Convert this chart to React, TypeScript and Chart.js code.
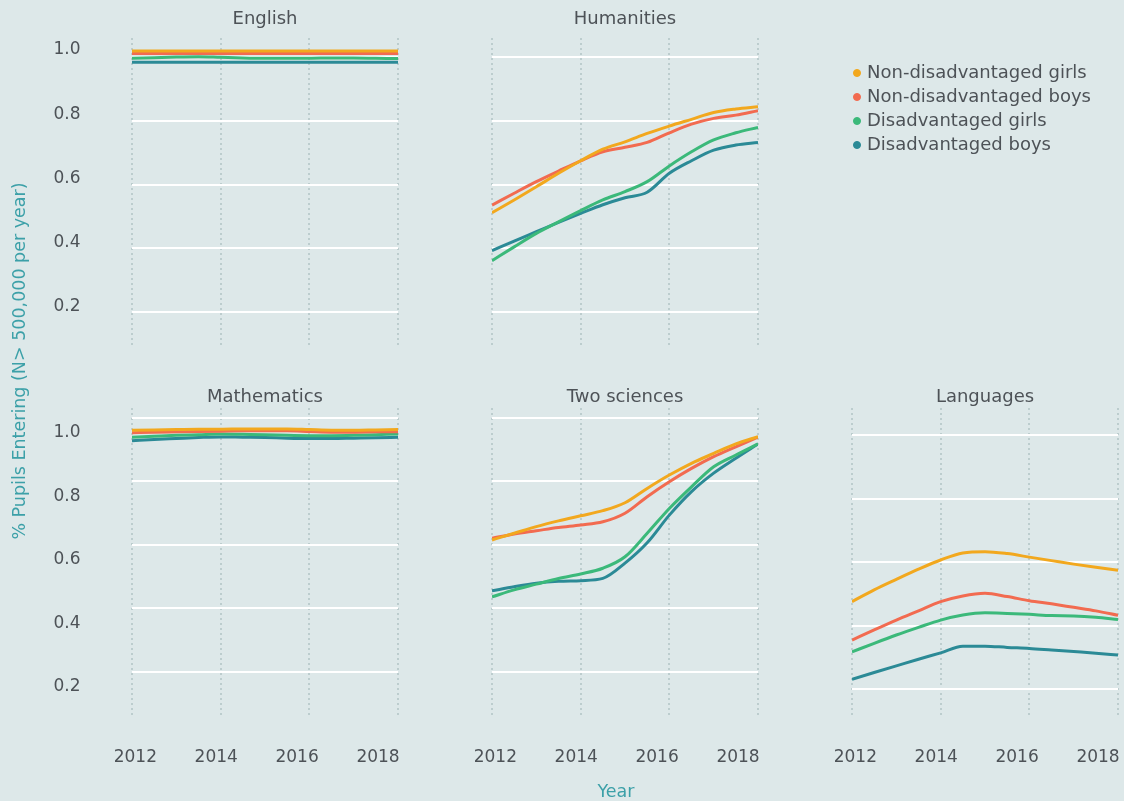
import React, { useEffect, useRef } from "react";
import { Chart, registerables } from "chart.js";

Chart.register(...registerables);

// ---------- data ----------
const years = [2012, 2012.5, 2013, 2013.5, 2014, 2014.5, 2015, 2015.5, 2016, 2016.5, 2017, 2017.5, 2018];
const yearTicks = [2012, 2014, 2016, 2018];
const valueTicks = [0.2, 0.4, 0.6, 0.8, 1.0];

const seriesNames = [
  "Non-disadvantaged girls",
  "Non-disadvantaged boys",
  "Disadvantaged girls",
  "Disadvantaged boys",
];
const seriesColors = ["#f2a81e", "#f26b50", "#3bb97a", "#2b8a96"];

const englishNDGirls = [0.991, 0.991, 0.991, 0.991, 0.991, 0.991, 0.991, 0.991, 0.991, 0.991, 0.991, 0.991, 0.991];
const englishNDBoys = [0.983, 0.983, 0.983, 0.983, 0.983, 0.983, 0.983, 0.983, 0.983, 0.983, 0.983, 0.983, 0.983];
const englishDGirls = [0.968, 0.970, 0.972, 0.973, 0.971, 0.969, 0.968, 0.968, 0.968, 0.969, 0.969, 0.968, 0.967];
const englishDBoys = [0.956, 0.956, 0.956, 0.956, 0.956, 0.956, 0.956, 0.956, 0.956, 0.956, 0.956, 0.956, 0.956];

const humNDGirls = [0.487, 0.527, 0.568, 0.610, 0.649, 0.685, 0.708, 0.734, 0.757, 0.778, 0.799, 0.810, 0.817];
const humNDBoys = [0.511, 0.548, 0.584, 0.617, 0.649, 0.677, 0.691, 0.706, 0.736, 0.763, 0.781, 0.791, 0.805];
const humDGirls = [0.338, 0.381, 0.423, 0.459, 0.494, 0.527, 0.553, 0.584, 0.633, 0.677, 0.714, 0.736, 0.753];
const humDBoys = [0.369, 0.399, 0.428, 0.457, 0.485, 0.512, 0.534, 0.551, 0.610, 0.649, 0.682, 0.698, 0.706];

const mathNDGirls = [1.004, 1.005, 1.006, 1.007, 1.007, 1.008, 1.008, 1.008, 1.006, 1.004, 1.004, 1.005, 1.006];
const mathNDBoys = [0.996, 0.998, 0.999, 1.000, 1.001, 1.002, 1.002, 1.002, 1.000, 0.998, 0.998, 0.999, 0.999];
const mathDGirls = [0.982, 0.985, 0.988, 0.990, 0.992, 0.991, 0.990, 0.988, 0.987, 0.987, 0.988, 0.990, 0.992];
const mathDBoys = [0.971, 0.975, 0.978, 0.981, 0.983, 0.982, 0.981, 0.979, 0.978, 0.978, 0.979, 0.980, 0.982];

const sciNDGirls = [0.659, 0.680, 0.701, 0.719, 0.735, 0.751, 0.776, 0.821, 0.863, 0.900, 0.931, 0.961, 0.984];
const sciNDBoys = [0.664, 0.678, 0.688, 0.698, 0.706, 0.716, 0.743, 0.795, 0.842, 0.884, 0.921, 0.952, 0.982];
const sciDGirls = [0.480, 0.502, 0.520, 0.538, 0.552, 0.570, 0.606, 0.680, 0.758, 0.826, 0.889, 0.926, 0.961];
const sciDBoys = [0.499, 0.512, 0.523, 0.529, 0.531, 0.538, 0.586, 0.650, 0.737, 0.811, 0.869, 0.916, 0.961];

const langNDGirls = [0.465, 0.502, 0.535, 0.567, 0.596, 0.618, 0.622, 0.616, 0.605, 0.594, 0.583, 0.573, 0.564];
const langNDBoys = [0.344, 0.376, 0.407, 0.436, 0.465, 0.483, 0.491, 0.481, 0.468, 0.458, 0.447, 0.436, 0.422];
const langDGirls = [0.307, 0.334, 0.360, 0.384, 0.407, 0.423, 0.430, 0.428, 0.425, 0.421, 0.420, 0.416, 0.409];
const langDBoys = [0.221, 0.242, 0.263, 0.284, 0.304, 0.325, 0.325, 0.321, 0.318, 0.313, 0.308, 0.303, 0.297];

// ---------- styling / layout ----------
const BG = "#dde8e9";
const TEXT = "#4d5257";
const AXIS_TITLE = "#3ca0a8";
const DOT = "#bccdce";
const FONT = "'DejaVu Sans', sans-serif";

const LW = 132; // left label band
const TH = 38; // title band
const BH = 60; // bottom label band
const RW = 5;
const AW = 266; // chart area width
const AH = 307; // chart area height

const colX = [132, 492, 852];
const rowY = [38, 408];

type Panel = {
  title: string;
  col: number;
  row: number;
  series: number[][];
  yMin: number;
  yMax: number;
  gMin: number;
  gMax: number;
};

const panels: Panel[] = [
  { title: "English", col: 0, row: 0, series: [englishNDGirls, englishNDBoys, englishDGirls, englishDBoys], yMin: 0.0755, yMax: 1.0311, gMin: 0.0953, gMax: 1.0607 },
  { title: "Humanities", col: 1, row: 0, series: [humNDGirls, humNDBoys, humDGirls, humDBoys], yMin: 0.0755, yMax: 1.0311, gMin: 0.0953, gMax: 1.0607 },
  { title: "Mathematics", col: 0, row: 1, series: [mathNDGirls, mathNDBoys, mathDGirls, mathDBoys], yMin: 0.1085, yMax: 1.0739, gMin: 0.0636, gMax: 1.0306 },
  { title: "Two sciences", col: 1, row: 1, series: [sciNDGirls, sciNDBoys, sciDGirls, sciDBoys], yMin: 0.1085, yMax: 1.0739, gMin: 0.0636, gMax: 1.0306 },
  { title: "Languages", col: 2, row: 1, series: [langNDGirls, langNDBoys, langDGirls, langDBoys], yMin: 0.1085, yMax: 1.0739, gMin: 0.1192, gMax: 1.0849 },
];

function panelRect(p: Panel) {
  return {
    left: colX[p.col] - LW,
    top: rowY[p.row] - TH,
    width: LW + AW + RW,
    height: TH + AH + BH,
  };
}

function fixSize(w: number | null, h: number | null) {
  return (ax: any) => {
    if (w !== null) ax.width = w;
    if (h !== null) ax.height = h;
    ax.paddingLeft = 0;
    ax.paddingRight = 0;
    ax.paddingTop = 0;
    ax.paddingBottom = 0;
  };
}

export default function App() {
  const frameRef = useRef<HTMLCanvasElement | null>(null);
  const legendRef = useRef<HTMLCanvasElement | null>(null);
  const panelRefs = useRef<(HTMLCanvasElement | null)[]>([]);

  useEffect(() => {
    document.body.style.margin = "0";
    const charts: Chart[] = [];

    // frame chart carrying the shared axis titles
    if (frameRef.current) {
      charts.push(
        new Chart(frameRef.current, {
          type: "line",
          data: { datasets: [] },
          options: {
            responsive: false,
            animation: false,
            layout: { padding: { left: 0, right: 12, top: 0, bottom: 0 } },
            plugins: { legend: { display: false }, tooltip: { enabled: false } },
            scales: {
              x: {
                type: "linear",
                grid: { display: false, drawTicks: false },
                border: { display: false },
                ticks: { display: false },
                title: { display: true, text: "Year", color: AXIS_TITLE, font: { family: FONT, size: 17.5 }, padding: { top: 0, bottom: -1.5 } },
                afterFit: fixSize(null, 79),
              },
              y: {
                type: "linear",
                grid: { display: false, drawTicks: false },
                border: { display: false },
                ticks: { display: false },
                title: { display: true, text: "% Pupils Entering (N> 500,000 per year)", color: AXIS_TITLE, font: { family: FONT, size: 17.5 }, padding: { top: 10, bottom: 0 } },
                afterFit: fixSize(120, null),
              },
            },
          } as any,
        })
      );
    }

    panels.forEach((p, idx) => {
      const canvas = panelRefs.current[idx];
      if (!canvas) return;
      const isLeft = p.col === 0;
      const isBottom = p.row === 1;
      const titlePadTop = isBottom ? 16.2 : 8.2;
      const titlePadBottom = TH - 21.6 - titlePadTop;
      charts.push(
        new Chart(canvas, {
          type: "line",
          data: {
            datasets: p.series.map((vals, i) => ({
              label: seriesNames[i],
              data: years.map((x, k) => ({ x, y: vals[k] })),
              borderColor: seriesColors[i],
              backgroundColor: seriesColors[i],
              borderWidth: 3,
              pointRadius: 0,
              cubicInterpolationMode: "monotone",
              borderJoinStyle: "round",
              xAxisID: "x",
              yAxisID: "y",
            })),
          },
          options: {
            responsive: false,
            animation: false,
            layout: { padding: { left: 0, right: RW, top: 0, bottom: 0 } },
            plugins: {
              legend: { display: false },
              tooltip: { enabled: false },
              title: {
                display: true,
                text: p.title,
                fullSize: false,
                color: TEXT,
                font: { family: FONT, size: 18, weight: "normal" },
                padding: { top: titlePadTop, bottom: titlePadBottom },
              },
            },
            scales: {
              x: {
                type: "linear",
                position: "bottom",
                min: 2012,
                max: 2018,
                afterBuildTicks: (ax: any) => { ax.ticks = yearTicks.map((v) => ({ value: v })); },
                afterFit: fixSize(null, 0),
                ticks: { display: false },
                border: { display: false, dash: [2, 3] },
                grid: { display: true, drawTicks: false, color: DOT, lineWidth: 2, z: -2 },
              },
              xl: {
                type: "linear",
                position: "bottom",
                min: 2011.918,
                max: 2018.494,
                afterBuildTicks: (ax: any) => { ax.ticks = yearTicks.map((v) => ({ value: v })); },
                afterFit: fixSize(null, BH),
                grid: { display: false, drawTicks: false },
                border: { display: false },
                ticks: {
                  display: isBottom,
                  padding: 32.5,
                  color: TEXT,
                  font: { family: FONT, size: 17 },
                  autoSkip: false,
                  maxRotation: 0,
                  callback: (v: any) => String(v),
                },
              },
              y: {
                type: "linear",
                position: "left",
                min: p.yMin,
                max: p.yMax,
                bounds: "data",
                afterBuildTicks: (ax: any) => { ax.ticks = valueTicks.map((v) => ({ value: v })); },
                afterFit: fixSize(LW, null),
                grid: { display: false, drawTicks: false },
                border: { display: false },
                ticks: {
                  display: isLeft,
                  padding: 51.5,
                  labelOffset: isBottom ? 1 : 2,
                  color: TEXT,
                  font: { family: FONT, size: 17 },
                  callback: (v: any) => Number(v).toFixed(1),
                },
              },
              yg: {
                type: "linear",
                position: "right",
                min: p.gMin,
                max: p.gMax,
                bounds: "data",
                afterBuildTicks: (ax: any) => { ax.ticks = valueTicks.map((v) => ({ value: v })); },
                afterFit: fixSize(0, null),
                ticks: { display: false },
                border: { display: false },
                grid: { display: true, drawTicks: false, color: "#ffffff", lineWidth: 2, z: -1 },
              },
            },
          } as any,
        })
      );
    });

    if (legendRef.current) {
      charts.push(
        new Chart(legendRef.current, {
          type: "line",
          data: {
            datasets: seriesNames.map((n, i) => ({
              label: n,
              data: [],
              borderColor: seriesColors[i],
              backgroundColor: seriesColors[i],
              borderWidth: 1,
              pointStyle: "circle",
            })),
          },
          options: {
            responsive: false,
            animation: false,
            layout: { padding: 0 },
            scales: { x: { display: false }, y: { display: false } },
            plugins: {
              tooltip: { enabled: false },
              legend: {
                display: true,
                position: "top",
                align: "start",
                labels: {
                  usePointStyle: true,
                  pointStyle: "circle",
                  boxWidth: 2,
                  boxHeight: 5,
                  padding: 6,
                  color: TEXT,
                  font: { family: FONT, size: 18 },
                },
              },
            },
          } as any,
        })
      );
    }

    return () => charts.forEach((c) => c.destroy());
  }, []);

  return (
    <div style={{ position: "relative", width: 1124, height: 801, overflow: "hidden", background: BG }}>
      <canvas ref={frameRef} width={1124} height={801} style={{ position: "absolute", left: 0, top: 0, width: 1124, height: 801 }} />
      {panels.map((p, i) => {
        const r = panelRect(p);
        return (
          <canvas
            key={p.title}
            ref={(el) => { panelRefs.current[i] = el; }}
            width={r.width}
            height={r.height}
            style={{ position: "absolute", left: r.left, top: r.top, width: r.width, height: r.height }}
          />
        );
      })}
      <canvas ref={legendRef} width={274} height={220} style={{ position: "absolute", left: 850, top: 58, width: 274, height: 220 }} />
    </div>
  );
}
